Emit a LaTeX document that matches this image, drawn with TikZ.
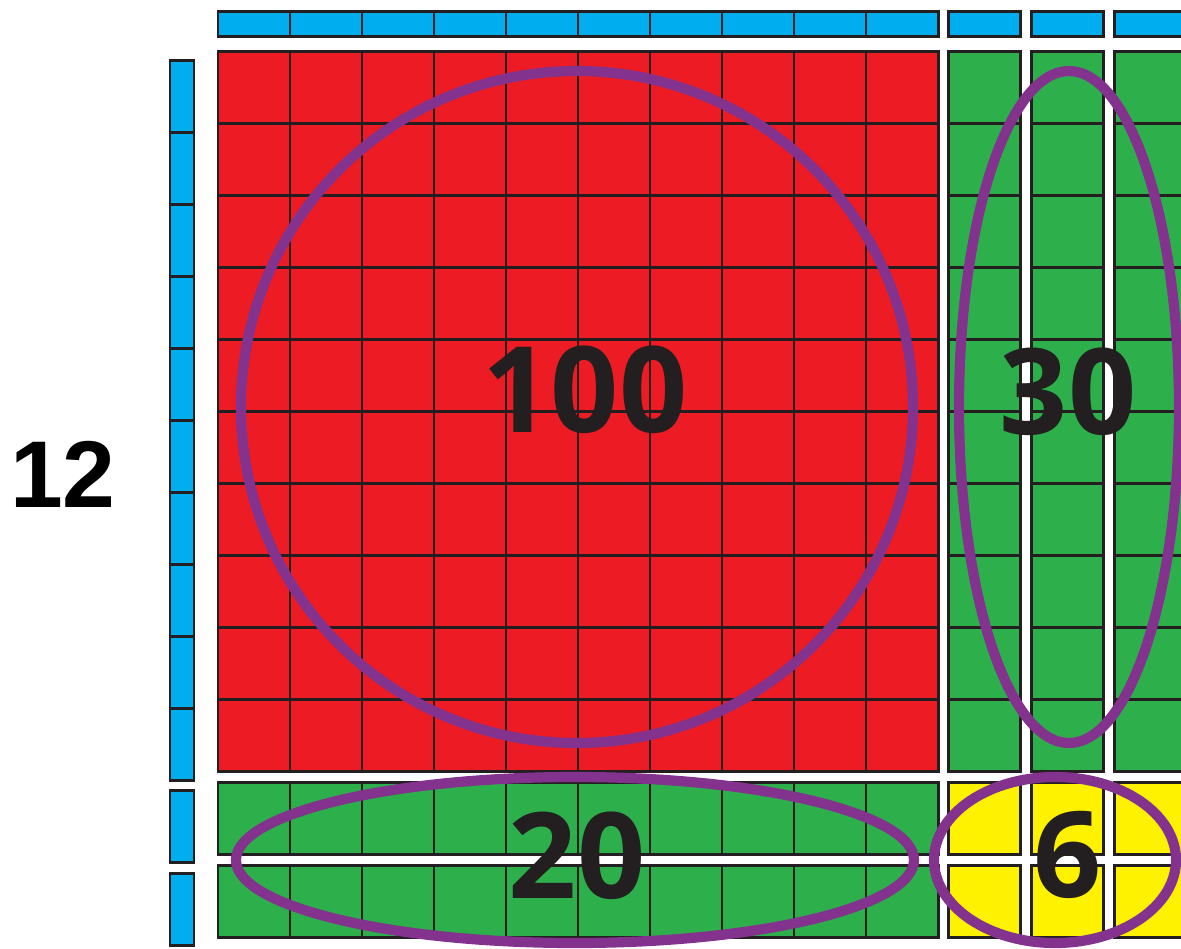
\documentclass[tikz,border=0pt]{standalone}
\usepackage{fontspec}
\setmainfont{Open Sans}
\newfontfamily\sidefont{Liberation Sans}
\usepackage{tikz}
\usetikzlibrary{positioning}
\definecolor{blockred}{HTML}{ED1C24}
\definecolor{blockgreen}{HTML}{2DB04B}
\definecolor{blockyellow}{HTML}{FFF200}
\definecolor{rodblue}{HTML}{00AEEF}
\definecolor{ringpurple}{RGB}{131,50,141}
\definecolor{edgeblack}{HTML}{231F20}

\begin{document}
\begin{tikzpicture}[
  x=0.02cm, y=-0.02cm,
  cell/.style={draw=edgeblack, line width=1.7pt},
  ring/.style={draw=ringpurple, line width=5.8pt},
  count/.style={font=\bfseries\fontsize{68}{68}\selectfont, text=edgeblack, inner sep=0pt}
]
\useasboundingbox (0,0) rectangle (1181,948);
\clip (0,0) rectangle (1181,948);

% Top rod and units
\foreach \i in {0,...,9}
  \draw[cell, fill=rodblue] (218+72*\i, 11) rectangle ++(72, 25);
\foreach \x in {948,1031,1114}
  \draw[cell, fill=rodblue] (\x, 11) rectangle ++(72, 25);

% Left rod and units
\foreach \j in {0,...,9}
  \draw[cell, fill=rodblue] (170, 60+72*\j) rectangle ++(24, 72);
\foreach \y in {790,873}
  \draw[cell, fill=rodblue] (170, \y) rectangle ++(24, 72);

% Hundred square
\foreach \i in {0,...,9}
  \foreach \j in {0,...,9}
    \draw[cell, fill=blockred] (218+72*\i, 51+72*\j) rectangle ++(72, 72);

% Tens columns
\foreach \x in {948,1031,1114}
  \foreach \j in {0,...,9}
    \draw[cell, fill=blockgreen] (\x, 51+72*\j) rectangle ++(72, 72);

% Tens rows
\foreach \y in {782,865}
  \foreach \i in {0,...,9}
    \draw[cell, fill=blockgreen] (218+72*\i, \y) rectangle ++(72, 72);

% Units
\foreach \x in {948,1031,1114}
  \foreach \y in {782,865}
    \draw[cell, fill=blockyellow] (\x, \y) rectangle ++(72, 72);

% Rings
\draw[ring] (577,407) ellipse [x radius=336, y radius=336];
\draw[ring] (1069,407) ellipse [x radius=110, y radius=336];
\draw[ring] (575,860) ellipse [x radius=339, y radius=83];
\draw[ring] (1055,860) ellipse [x radius=121, y radius=83];

% Counts
\node[count] (hundred) at (585,390) {100};
\node[count] (thirty) at (1068,392) {30};
\node[count] (twenty) at (577,856) {20};
\node[count] (six) at (1068,855) {6};
\node[font=\sidefont\bfseries\fontsize{54}{54}\selectfont, inner sep=0pt] (side) at (63,474) {12};

\end{tikzpicture}
\end{document}
